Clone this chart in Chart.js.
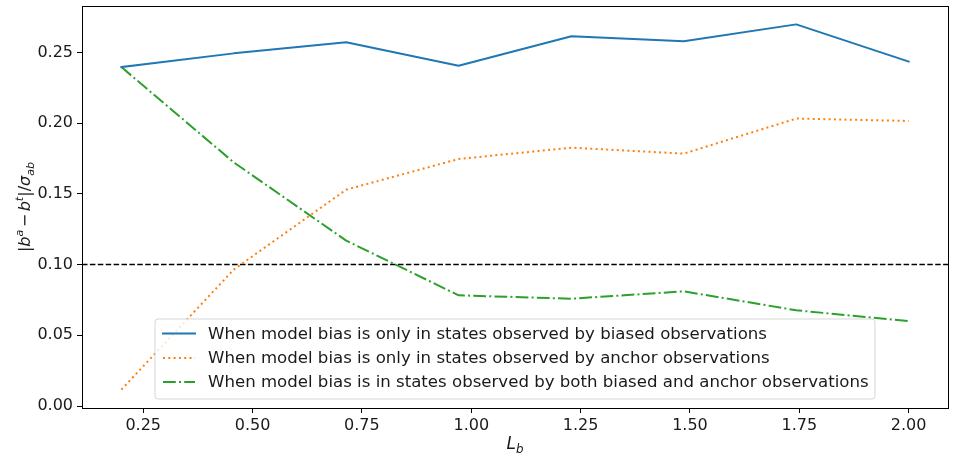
<!DOCTYPE html>
<html><head><meta charset="utf-8">
<script src="https://cdn.jsdelivr.net/npm/chart.js@4/dist/chart.umd.min.js"></script>
<style>html,body{margin:0;padding:0;background:#fff}#wrap{width:954px;height:458px;position:relative}</style>
</head><body><div id="wrap"><canvas id="c" width="954" height="458"></canvas></div>
<script>
const Lb = [0.2, 0.457, 0.714, 0.971, 1.229, 1.486, 1.743, 2.0];
const biasedOnly = [0.2397, 0.2494, 0.2572, 0.2407, 0.2615, 0.2579, 0.2699, 0.2436];
const anchorOnly = [0.0116, 0.0965, 0.1530, 0.1747, 0.1827, 0.1785, 0.2033, 0.2016];
const bothObs   = [0.2397, 0.1723, 0.1170, 0.0783, 0.0759, 0.0811, 0.0677, 0.0601];
const threshold = 0.10;
const xTicks = [0.25, 0.50, 0.75, 1.00, 1.25, 1.50, 1.75, 2.00];
const yTicks = [0.00, 0.05, 0.10, 0.15, 0.20, 0.25];
const seriesLabels = [
  'When model bias is only in states observed by biased observations',
  'When model bias is only in states observed by anchor observations',
  'When model bias is in states observed by both biased and anchor observations'
];
const xRange = [0.11, 2.09];
const yRange = [-0.0014, 0.2829];

const FONT = 'DejaVu Sans';
const colors = ['#1f77b4', '#ff7f0e', '#2ca02c'];
const dashes = [[], [2, 3.3], [12.8, 3.2, 2, 3.2]];

function pts(ys) { return Lb.map((x, i) => ({x: x, y: ys[i]})); }

const datasets = [biasedOnly, anchorOnly, bothObs].map((ys, i) => ({
  label: seriesLabels[i], data: pts(ys), borderColor: colors[i], backgroundColor: colors[i],
  borderWidth: 2, borderDash: dashes[i], pointRadius: 0, tension: 0, fill: false,
  borderCapStyle: i === 0 ? 'square' : 'butt', borderJoinStyle: 'round'
}));
datasets.push({
  label: 'threshold', data: [{x: xRange[0], y: threshold}, {x: xRange[1], y: threshold}],
  borderColor: '#000', borderWidth: 1.5, borderDash: [5.5, 2.4], pointRadius: 0, fill: false, isRef: true
});

function drawRich(ctx, segs, size) {
  let total = 0;
  const m = segs.map(s => {
    const fs = size * (s.scale || 1);
    ctx.font = (s.it ? 'italic ' : '') + fs + 'px "' + FONT + '"';
    const w = ctx.measureText(s.t).width + (s.gap || 0) * 2;
    total += w;
    return {fs, w};
  });
  let x = -total / 2;
  segs.forEach((s, i) => {
    ctx.font = (s.it ? 'italic ' : '') + m[i].fs + 'px "' + FONT + '"';
    ctx.fillText(s.t, x + (s.gap || 0), (s.dy || 0) * size);
    x += m[i].w;
  });
}

const decor = {
  id: 'decor',
  afterDraw(chart) {
    const ctx = chart.ctx, a = chart.chartArea;
    ctx.save();
    ctx.strokeStyle = '#000'; ctx.lineWidth = 1; ctx.setLineDash([]);
    ctx.strokeRect(Math.round(a.left) + 0.5, Math.round(a.top) + 0.5, Math.round(a.right - a.left), Math.round(a.bottom - a.top));
    // legend
    const bx = 155, by = 319, bw = 720, bh = 80, r = 3;
    ctx.beginPath();
    ctx.moveTo(bx + r, by); ctx.lineTo(bx + bw - r, by); ctx.quadraticCurveTo(bx + bw, by, bx + bw, by + r);
    ctx.lineTo(bx + bw, by + bh - r); ctx.quadraticCurveTo(bx + bw, by + bh, bx + bw - r, by + bh);
    ctx.lineTo(bx + r, by + bh); ctx.quadraticCurveTo(bx, by + bh, bx, by + bh - r);
    ctx.lineTo(bx, by + r); ctx.quadraticCurveTo(bx, by, bx + r, by);
    ctx.closePath();
    ctx.fillStyle = 'rgba(255,255,255,0.8)'; ctx.fill();
    ctx.strokeStyle = 'rgba(204,204,204,0.8)'; ctx.lineWidth = 1; ctx.stroke();
    const rows = [333.5, 358, 382];
    chart.data.datasets.filter(d => !d.isRef).forEach((d, i) => {
      ctx.beginPath();
      ctx.strokeStyle = d.borderColor; ctx.lineWidth = 2; ctx.setLineDash(d.borderDash);
      ctx.lineCap = i === 0 ? 'square' : 'butt';
      ctx.moveTo(163, rows[i]); ctx.lineTo(195, rows[i]); ctx.stroke();
      ctx.setLineDash([]);
      ctx.fillStyle = '#1a1a1a'; ctx.font = '16.6px "' + FONT + '"';
      ctx.textBaseline = 'middle'; ctx.textAlign = 'left';
      ctx.fillText(d.label, 208, rows[i] + 1);
    });
    // axis labels
    ctx.fillStyle = '#1a1a1a'; ctx.textBaseline = 'alphabetic'; ctx.textAlign = 'left';
    ctx.save();
    ctx.translate(30, (a.top + a.bottom) / 2);
    ctx.rotate(-Math.PI / 2);
    drawRich(ctx, [
      {t: '|'}, {t: 'b', it: true}, {t: 'a', it: true, scale: 0.7, dy: -0.45},
      {t: '−', gap: 2.5}, {t: 'b', it: true}, {t: 't', it: true, scale: 0.7, dy: -0.45},
      {t: '|/'}, {t: 'σ', it: true}, {t: 'ab', it: true, scale: 0.7, dy: 0.25}
    ], 16);
    ctx.restore();
    ctx.save();
    ctx.translate((a.left + a.right) / 2, 449);
    drawRich(ctx, [{t: 'L', it: true}, {t: 'b', it: true, scale: 0.7, dy: 0.25}], 17);
    ctx.restore();
    ctx.restore();
  }
};

function noPad(s) { s.paddingTop = 0; s.paddingBottom = 0; s.paddingLeft = 0; s.paddingRight = 0; }

new Chart(document.getElementById('c'), {
  type: 'line',
  data: {datasets: datasets},
  options: {
    responsive: false, animation: false, devicePixelRatio: 1,
    layout: {padding: {top: 6, right: 6, left: 0, bottom: 0}},
    plugins: {legend: {display: false}, tooltip: {enabled: false}},
    scales: {
      x: {
        type: 'linear', min: xRange[0], max: xRange[1],
        afterBuildTicks: s => { s.ticks = xTicks.map(v => ({value: v})); },
        afterFit: s => { s.height = 50; noPad(s); },
        ticks: {callback: v => v.toFixed(2), font: {family: FONT, size: 16}, color: '#1a1a1a', padding: 3, maxRotation: 0, autoSkip: false},
        grid: {drawOnChartArea: false, drawTicks: true, tickLength: 5, color: '#000', tickWidth: 1},
        border: {display: true, color: '#000', width: 1}
      },
      y: {
        type: 'linear', min: yRange[0], max: yRange[1],
        afterBuildTicks: s => { s.ticks = yTicks.map(v => ({value: v})); },
        afterFit: s => { s.width = 82; noPad(s); },
        ticks: {callback: v => v.toFixed(2), font: {family: FONT, size: 16}, color: '#1a1a1a', padding: 4, autoSkip: false},
        grid: {drawOnChartArea: false, drawTicks: true, tickLength: 5, color: '#000', tickWidth: 1},
        border: {display: true, color: '#000', width: 1}
      }
    }
  },
  plugins: [decor]
});
</script></body></html>
